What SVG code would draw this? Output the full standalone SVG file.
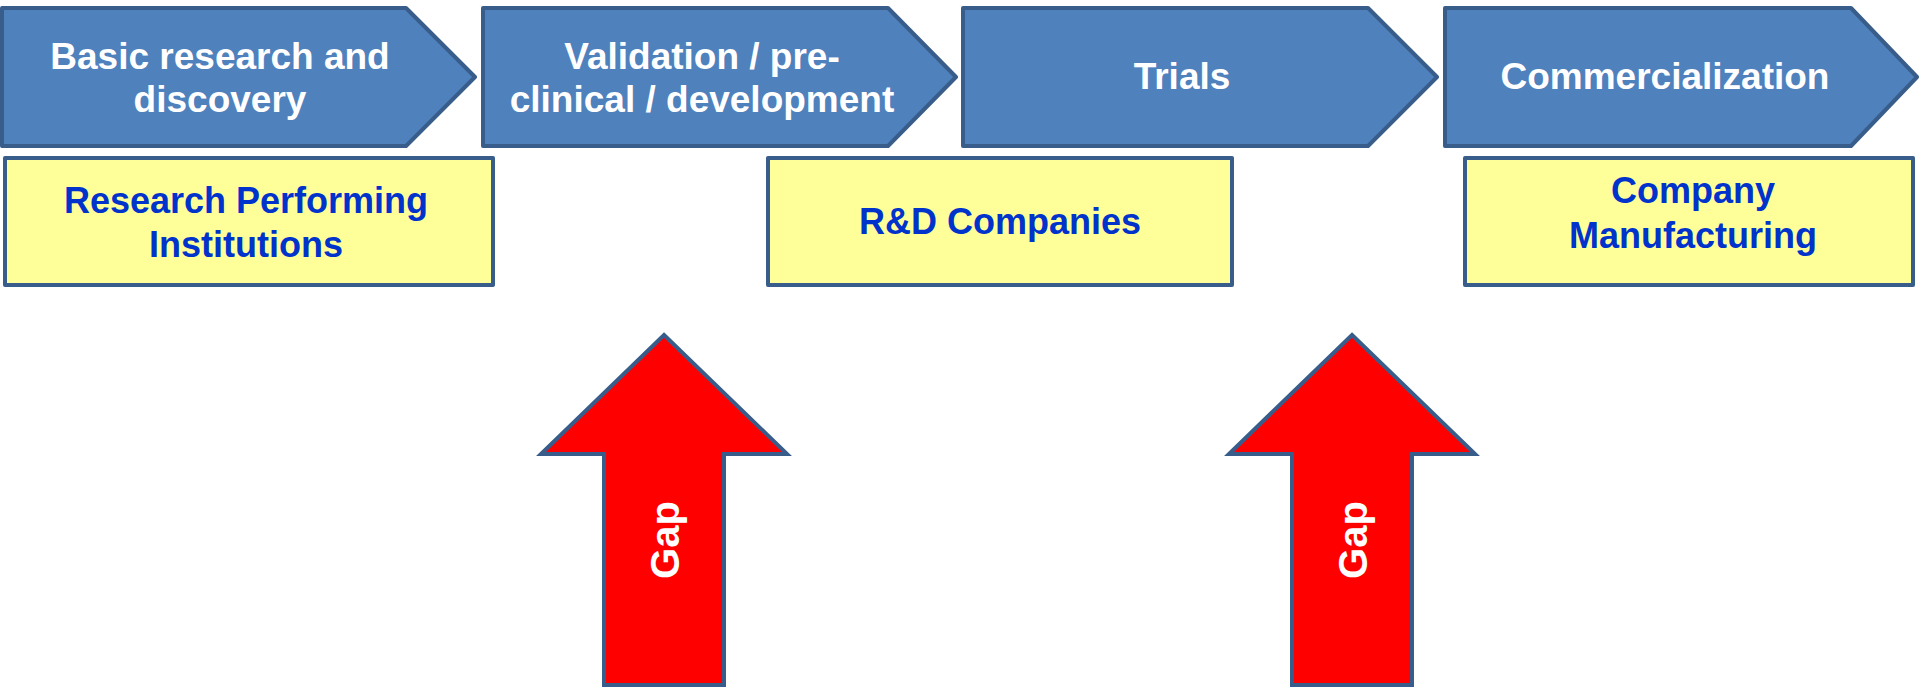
<svg xmlns="http://www.w3.org/2000/svg" width="1920" height="688" viewBox="0 0 1920 688">
<style>
.chev{fill:#4F81BD;stroke:#385D8A;stroke-width:4;stroke-linejoin:round}
.box{fill:#FFFF99;stroke:#385D8A;stroke-width:4;stroke-linejoin:round}
.gap{fill:#FF0000;stroke:#385D8A;stroke-width:4;stroke-linejoin:miter}
.wt{font-family:"Liberation Sans",Arial,sans-serif;font-weight:bold;font-size:37px;fill:#FFFFFF;text-anchor:middle}
.bt{font-family:"Liberation Sans",Arial,sans-serif;font-weight:bold;font-size:36px;fill:#0033CC;text-anchor:middle}
.gt{font-family:"Liberation Sans",Arial,sans-serif;font-weight:bold;font-size:40px;fill:#FFFFFF;text-anchor:middle}
</style>
<rect width="1920" height="688" fill="#FFFFFF"/>
<g id="stage1">
<polygon class="chev" points="2,8 406,8 475,77 406,146 2,146"/>
<text class="wt" x="220" y="69">Basic research and</text>
<text class="wt" x="220" y="112">discovery</text>
</g>
<g id="stage2">
<polygon class="chev" points="483,8 888,8 956,77 888,146 483,146"/>
<text class="wt" x="702" y="69">Validation / pre-</text>
<text class="wt" x="702" y="112">clinical / development</text>
</g>
<g id="stage3">
<polygon class="chev" points="963,8 1368,8 1437,77 1368,146 963,146"/>
<text class="wt" x="1182" y="89">Trials</text>
</g>
<g id="stage4">
<polygon class="chev" points="1445,8 1851,8 1917,77 1851,146 1445,146"/>
<text class="wt" x="1665" y="89">Commercialization</text>
</g>
<g id="actor1">
<rect class="box" x="5" y="158" width="488" height="127"/>
<text class="bt" x="246" y="213">Research Performing</text>
<text class="bt" x="246" y="257">Institutions</text>
</g>
<g id="actor2">
<rect class="box" x="768" y="158" width="464" height="127"/>
<text class="bt" x="1000" y="234">R&amp;D Companies</text>
</g>
<g id="actor3">
<rect class="box" x="1465" y="158" width="448" height="127"/>
<text class="bt" x="1693" y="203">Company</text>
<text class="bt" x="1693" y="248">Manufacturing</text>
</g>
<g id="connectors">
<g id="gap1">
<polygon class="gap" points="664,335 787,454 724,454 724,685 604,685 604,454 541,454"/>
<text class="gt" transform="translate(679,540) rotate(-90)">Gap</text>
</g>
<g id="gap2">
<polygon class="gap" points="1352,335 1475,454 1412,454 1412,685 1292,685 1292,454 1229,454"/>
<text class="gt" transform="translate(1367,540) rotate(-90)">Gap</text>
</g>
</g>
</svg>
